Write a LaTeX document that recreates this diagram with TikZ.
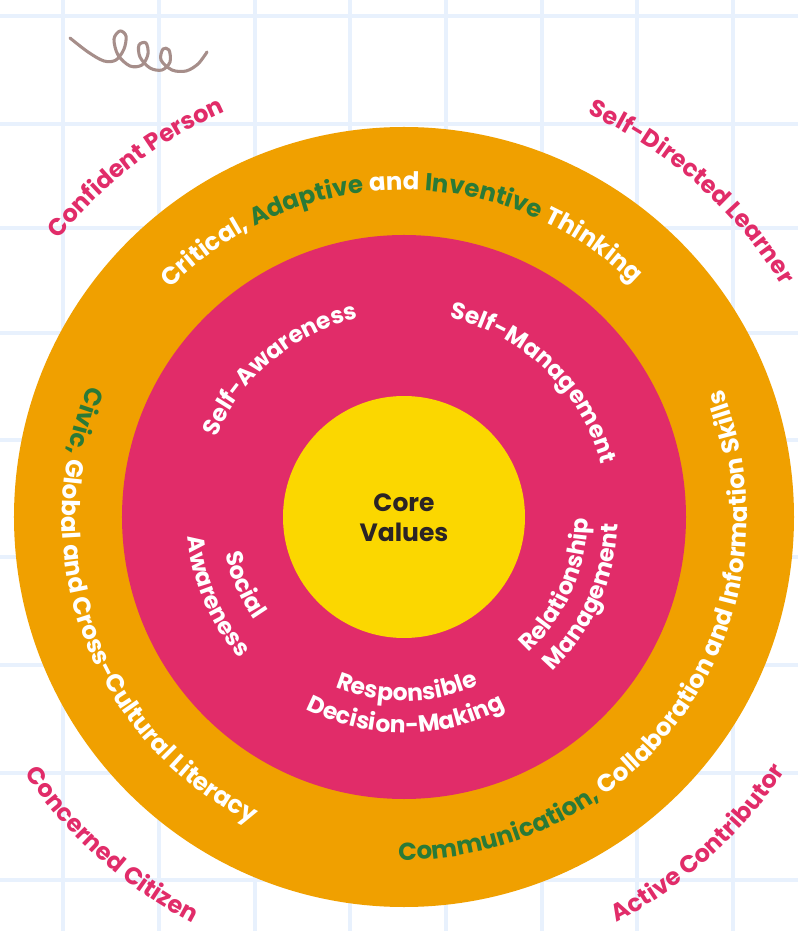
\documentclass[tikz,border=0pt]{standalone}
\usepackage{fontspec}
\setmainfont{Poppins}
\usetikzlibrary{decorations.text}

\definecolor{ringorange}{HTML}{F0A000}
\definecolor{ringpink}{HTML}{E12C69}
\definecolor{coreyellow}{HTML}{FBD700}
\definecolor{leafgreen}{HTML}{2A7A37}
\definecolor{gridblue}{HTML}{E8F1FD}
\definecolor{scribble}{HTML}{A68E8A}
\definecolor{coretext}{HTML}{2B2425}

\newcommand{\pinklabel}{\fontsize{18}{20}\selectfont\bfseries\color{ringpink}}
\newcommand{\bandwhite}{\fontsize{18.4}{20}\selectfont\bfseries\color{white}}
\newcommand{\bandgreen}{\fontsize{18.4}{20}\selectfont\bfseries\color{leafgreen}}
\newcommand{\skilltxt}{\fontsize{17.6}{20}\selectfont\bfseries\color{white}}

\begin{document}
\begin{tikzpicture}[x=0.75pt, y=0.75pt,
    gridline/.style={gridblue, line width=2.4pt},
    arctext/.style={decorate, decoration={text along path, text align=center, text={#1}}}]
      \useasboundingbox (-404,-414) rectangle (394,517);
      \fill[white] (-404,-414) rectangle (394,517);

      \foreach \gx in {-341,-245,-149,-54,42,138,233,329}
        \draw[gridline] (\gx,-414) -- (\gx,517);
      \foreach \gy in {501,393,289,184,77,-40,-148,-256,-363}
        \draw[gridline] (-404,\gy) -- (394,\gy);

      \draw[scribble, line width=2.3pt, line cap=round, line join=round]
        plot[smooth, tension=0.55] coordinates {(-334,479) (-316,465) (-300,456) (-288,457)
          (-280,468) (-278,481) (-284,486) (-290,478) (-286,462) (-274,451) (-262,452)
          (-256,463) (-258,474) (-265,472) (-264,460) (-254,449) (-242,447) (-234,455)
          (-235,467) (-241,468) (-243,457) (-232,447) (-218,446) (-206,453) (-197,465)};

      \fill[ringorange] (0,0) circle[radius=390];
      \fill[ringpink] (0,0) circle[radius=282];
      \fill[coreyellow] (0,0) circle[radius=121];
      \node[font=\fontsize{18.75}{22.5}\selectfont\bfseries, text=coretext, align=center] (core) at (0,-1) {Core\\Values};

      \path[arctext={|\pinklabel|Confident Person}] (160:443) arc[start angle=160, end angle=95, radius=443];
      \path[arctext={|\pinklabel|Self-Directed Learner}] (86:443) arc[start angle=86, end angle=11, radius=443];
      \path[arctext={|\pinklabel|Concerned Citizen}] (190:458) arc[start angle=190, end angle=266.6, radius=458];
      \path[arctext={|\pinklabel|Active Contributor}] (275:458) arc[start angle=275, end angle=349, radius=458];

      \path[arctext={|\bandwhite|Critical, |\bandgreen|Adaptive |\bandwhite|and |\bandgreen|Inventive |\bandwhite|Thinking}]
        (165.5:327) arc[start angle=165.5, end angle=15.5, radius=327];
      \path[arctext={|\bandgreen|Civic, |\bandwhite|Global and Cross-Cultural Literacy}]
        (125.5:342) arc[start angle=125.5, end angle=275.5, radius=342];
      \path[arctext={|\bandgreen|Communication, |\bandwhite|Collaboration and Information Skills}]
        (240.5:343) arc[start angle=240.5, end angle=410.5, radius=343];

      \path[arctext={|\skilltxt|Self-Awareness}] (190:204) arc[start angle=190, end angle=70, radius=204];
      \path[arctext={|\skilltxt|Self-Management}] (106:204) arc[start angle=106, end angle=-14, radius=204];
      \path[arctext={|\skilltxt|Social}] (153:182) arc[start angle=153, end angle=253, radius=182];
      \path[arctext={|\skilltxt|Awareness}] (143:217) arc[start angle=143, end angle=263, radius=217];
      \path[arctext={|\skilltxt|Relationship}] (286:184) arc[start angle=286, end angle=386, radius=184];
      \path[arctext={|\skilltxt|Management}] (276:214) arc[start angle=276, end angle=396, radius=214];
      \path[arctext={|\skilltxt|Responsible}] (221:184) arc[start angle=221, end angle=321, radius=184];
      \path[arctext={|\skilltxt|Decision-Making}] (210.5:216) arc[start angle=210.5, end angle=330.5, radius=216];
    \end{tikzpicture}
\end{document}
